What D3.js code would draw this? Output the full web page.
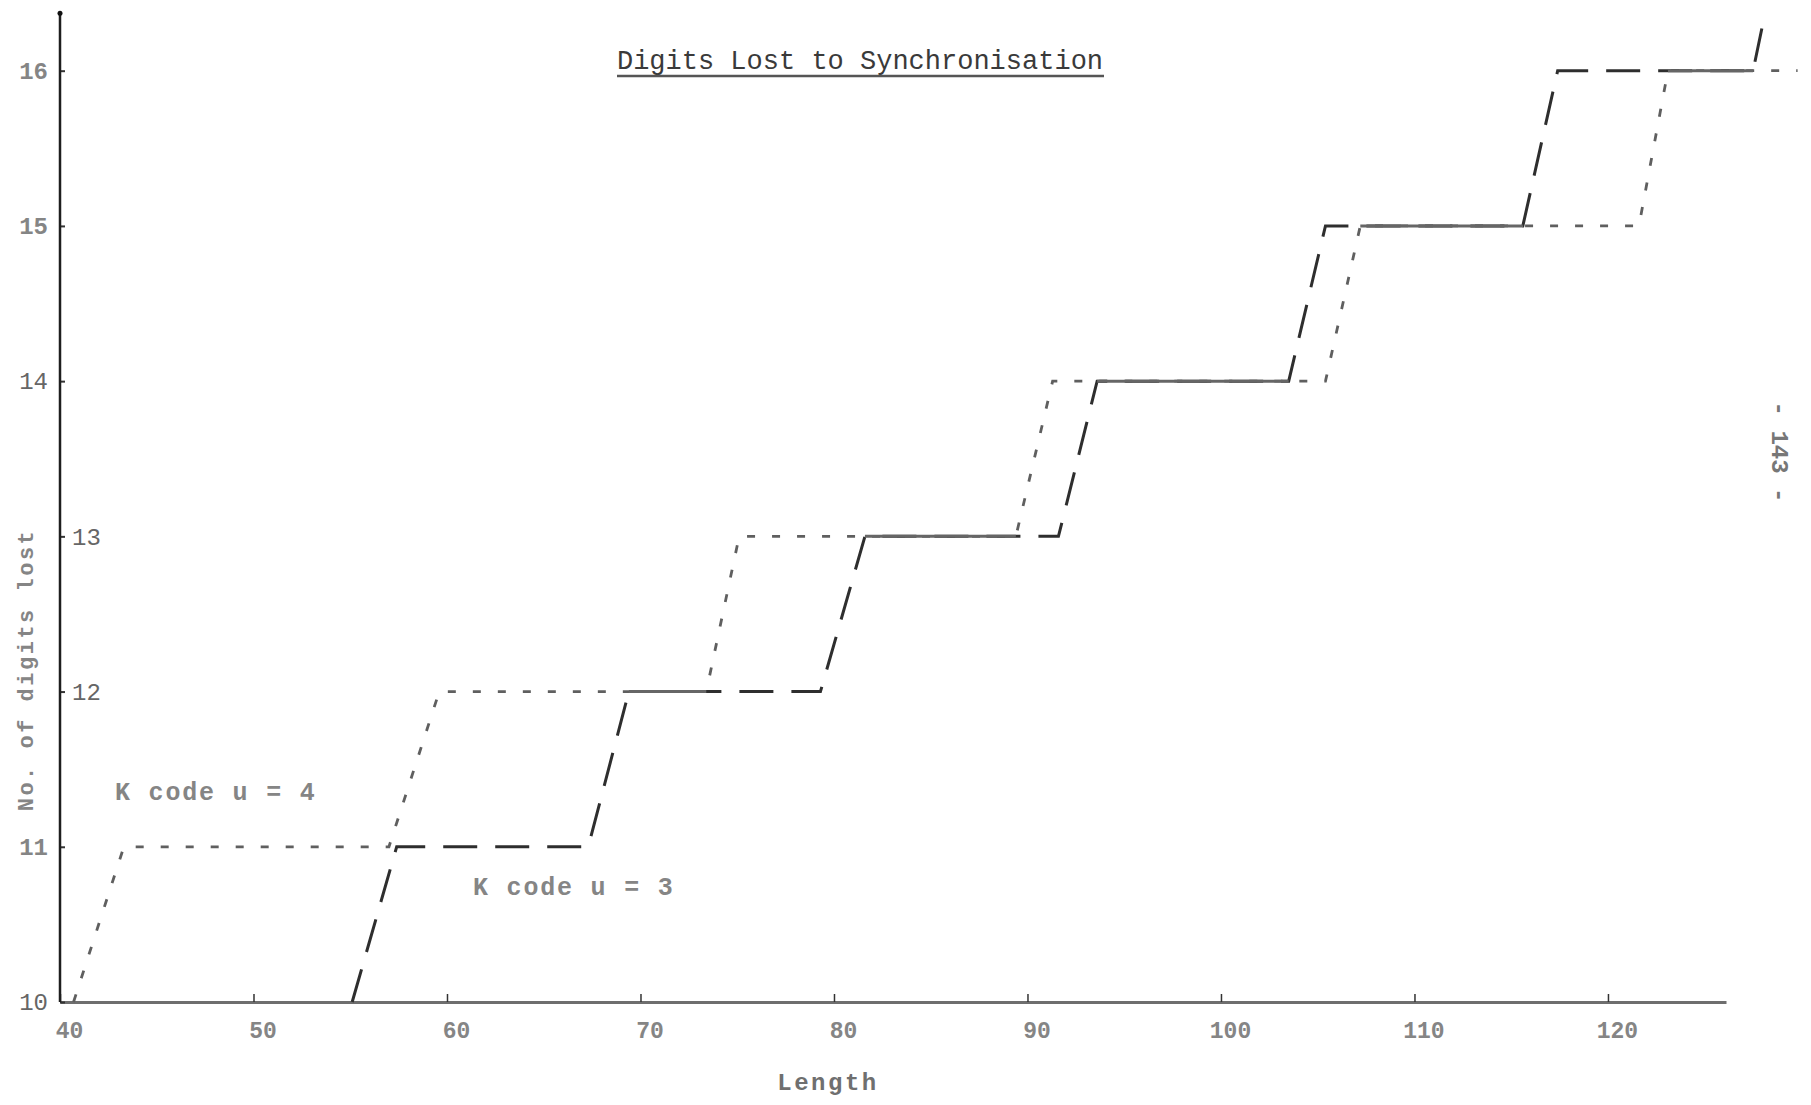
<!DOCTYPE html>
<html>
<head>
<meta charset="utf-8">
<script src="https://cdn.jsdelivr.net/npm/d3@7"></script>
<style>
  html, body { margin: 0; padding: 0; background: #fff; }
  svg { display: block; }
</style>
</head>
<body>
<script>
// ---- data ----
const xTicks = [40, 50, 60, 70, 80, 90, 100, 110, 120];
const yTicks = [10, 11, 12, 13, 14, 15, 16];
const yTicksLabelRight = [12, 13];

// K code u = 4 (short dashed, lighter)
const u4X = [40.7, 43.3, 57.0, 59.6, 73.4, 75.1, 89.4, 91.3, 105.4, 107.2, 121.6, 123.1, 129.8];
const u4Y = [10, 11, 11, 12, 12, 13, 13, 14, 14, 15, 15, 16, 16];

// K code u = 3 (long dashed, darker)
const u3X = [55.1, 57.4, 67.3, 69.4, 79.3, 81.6, 91.6, 93.6, 103.5, 105.4, 115.6, 117.4, 127.5, 128.1];
const u3Y = [10, 11, 11, 12, 12, 13, 13, 14, 14, 15, 15, 16, 16, 16.36];

const seriesLabels = ["K code u = 4", "K code u = 3"];
const title = "Digits Lost to Synchronisation";
const xLabel = "Length";
const yLabel = "No. of digits lost";
const pageNo = "- 143 -";

// ---- drawing ----
const W = 1811, H = 1105;
const svg = d3.select("body").append("svg").attr("width", W).attr("height", H);

const x = d3.scaleLinear().domain([40, 126.1]).range([60, 1726]);
const y = d3.scaleLinear().domain([10, 16]).range([1002, 70.7]);

const typeFont = "'Liberation Mono', 'DejaVu Sans Mono', monospace";

// title
svg.append("text")
  .attr("x", 860).attr("y", 69)
  .attr("text-anchor", "middle")
  .attr("font-family", typeFont)
  .attr("font-size", 27)
  .attr("fill", "#3a3a3a")
  .text(title);
svg.append("line")
  .attr("x1", 617).attr("x2", 1104).attr("y1", 76).attr("y2", 76)
  .attr("stroke", "#555").attr("stroke-width", 2.5);

// x axis
const xAxis = d3.axisBottom(x).tickValues(xTicks).tickSize(-8).tickSizeOuter(0).tickPadding(20).tickFormat(d3.format("d"));
const gx = svg.append("g").attr("transform", `translate(0,${y(10)})`).call(xAxis);
gx.select(".domain").attr("stroke", "#6e6e6e").attr("stroke-width", 3);
gx.selectAll(".tick line").attr("stroke", "#333").attr("stroke-width", 1.5);
gx.selectAll(".tick text")
  .attr("font-family", typeFont).attr("font-size", 23).attr("font-weight", "bold")
  .attr("fill", "#858585").attr("dx", 9);

// y axis
const yAxis = d3.axisLeft(y).tickValues(yTicks).tickSize(-5).tickPadding(12).tickFormat(d3.format("d"));
const gy = svg.append("g").attr("transform", `translate(${x(40)},0)`).call(yAxis);
gy.select(".domain").remove();
svg.append("line")
  .attr("x1", x(40)).attr("x2", x(40))
  .attr("y1", y(10)).attr("y2", y(16.37))
  .attr("stroke", "#1e1e1e").attr("stroke-width", 2.5);
svg.append("circle").attr("cx", x(40)).attr("cy", y(16.37)).attr("r", 2.5).attr("fill", "#111");
gy.selectAll(".tick line").attr("stroke", "#333").attr("stroke-width", 2);
gy.selectAll(".tick text")
  .attr("font-family", typeFont).attr("font-size", 24)
  .attr("fill", d => (d === 10 || d === 14 || d === 13 || d === 12) ? "#666" : "#858585")
  .attr("font-weight", d => (d === 10 || d === 14 || d === 13 || d === 12) ? "normal" : "bold")
  .each(function(d) {
    if (yTicksLabelRight.includes(d)) {
      d3.select(this).attr("text-anchor", "start").attr("x", 12);
    }
  });

// axis titles
svg.append("text")
  .attr("x", 828).attr("y", 1090)
  .attr("text-anchor", "middle")
  .attr("font-family", typeFont).attr("font-size", 24).attr("font-weight", "bold")
  .attr("letter-spacing", 2.5)
  .attr("fill", "#6f6f6f")
  .text(xLabel);

svg.append("text")
  .attr("transform", `translate(33,670) rotate(-90)`)
  .attr("text-anchor", "middle")
  .attr("font-family", typeFont).attr("font-size", 22).attr("font-weight", "bold")
  .attr("letter-spacing", 2.5)
  .attr("fill", "#858585")
  .text(yLabel);

// lines
const line = d3.line().x(d => x(d[0])).y(d => y(d[1]));
const u4 = u4X.map((v, i) => [v, u4Y[i]]);
const u3 = u3X.map((v, i) => [v, u3Y[i]]);

// overlapping horizontal stretches appear solid in the reference
function horiz(pts) {
  const segs = [];
  for (let i = 0; i < pts.length - 1; i++) {
    if (pts[i][1] === pts[i + 1][1]) segs.push([pts[i][0], pts[i + 1][0], pts[i][1]]);
  }
  return segs;
}
const overlaps = [];
horiz(u3).forEach(a => horiz(u4).forEach(b => {
  if (a[2] === b[2]) {
    const lo = Math.max(a[0], b[0]), hi = Math.min(a[1], b[1]);
    if (hi > lo) overlaps.push([lo, hi, a[2]]);
  }
}));

svg.append("path").datum(u4)
  .attr("d", line).attr("fill", "none")
  .attr("stroke", "#5f5f5f").attr("stroke-width", 2.8)
  .attr("stroke-dasharray", "8,17");

svg.append("path").datum(u3)
  .attr("d", line).attr("fill", "none")
  .attr("stroke", "#2e2e2e").attr("stroke-width", 3)
  .attr("stroke-dasharray", "34,18");

svg.selectAll(".ov").data(overlaps).enter().append("line")
  .attr("x1", d => x(d[0])).attr("x2", d => x(d[1]))
  .attr("y1", d => y(d[2])).attr("y2", d => y(d[2]))
  .attr("stroke", "#666").attr("stroke-width", 3);

// series labels
svg.append("text")
  .attr("x", 115).attr("y", 800)
  .attr("font-family", typeFont).attr("font-size", 25).attr("font-weight", "bold")
  .attr("letter-spacing", 1.8)
  .attr("fill", "#858585")
  .text(seriesLabels[0]);
svg.append("text")
  .attr("x", 473).attr("y", 895)
  .attr("font-family", typeFont).attr("font-size", 25).attr("font-weight", "bold")
  .attr("letter-spacing", 1.8)
  .attr("fill", "#858585")
  .text(seriesLabels[1]);

// page number (rotated)
svg.append("text")
  .attr("transform", `translate(1772,452) rotate(90)`)
  .attr("text-anchor", "middle")
  .attr("font-family", typeFont).attr("font-size", 24).attr("font-weight", "bold")
  .attr("fill", "#777")
  .text(pageNo);
</script>
</body>
</html>
